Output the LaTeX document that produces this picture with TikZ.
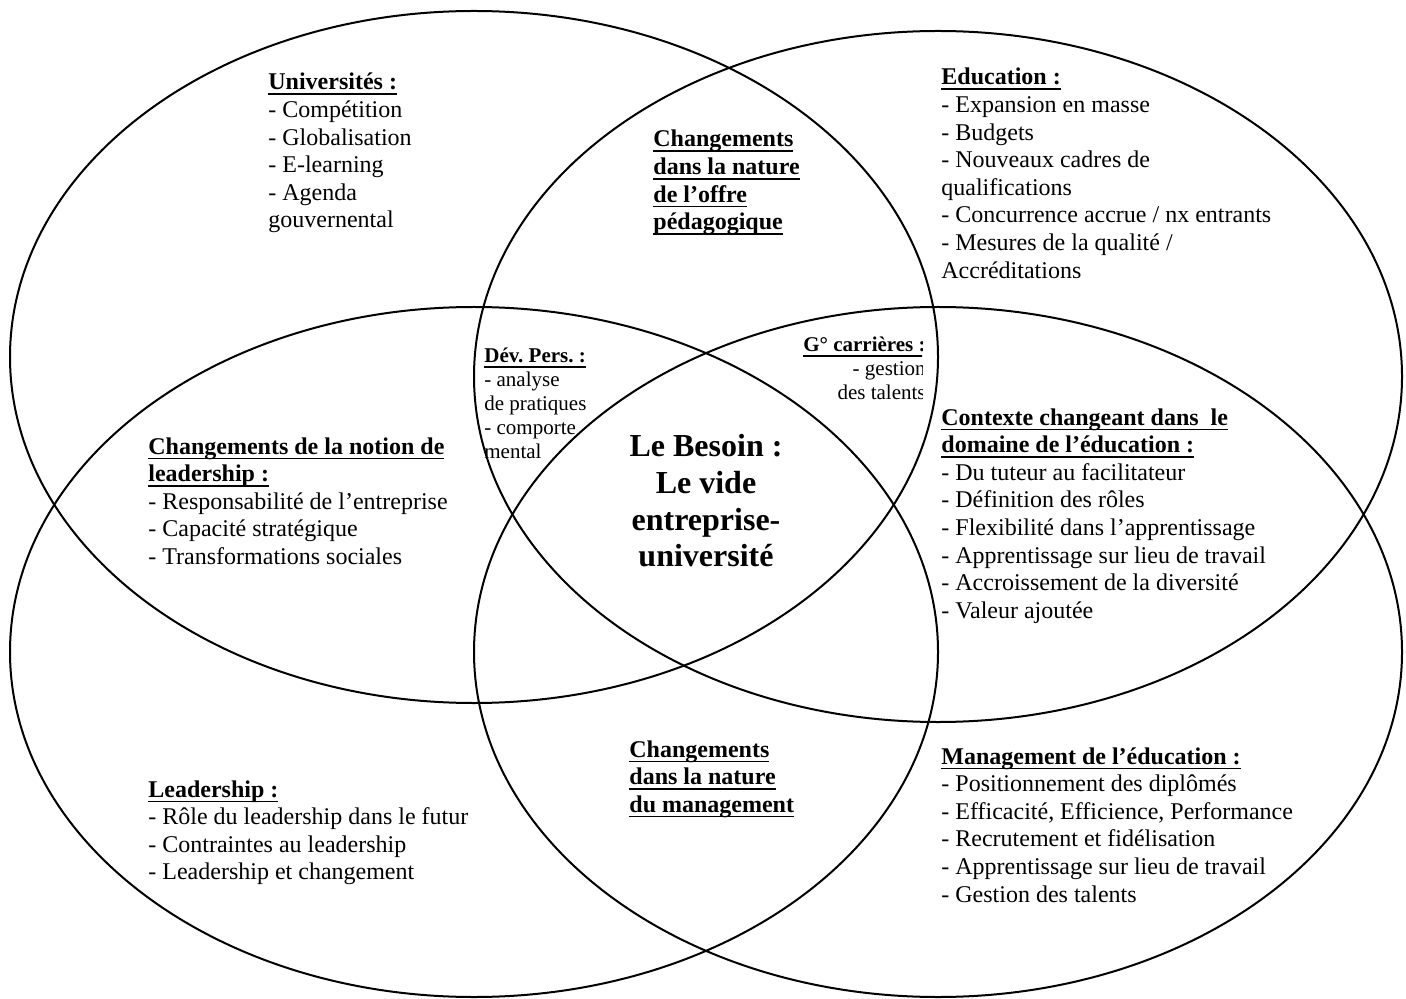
\documentclass[tikz,border=0pt]{standalone}
\usepackage{fontspec}
\setmainfont{Liberation Serif}
\frenchspacing
\newcommand{\myul}[1]{\setbox0\hbox{#1}\rlap{\rule[-2.6pt]{\wd0}{0.85pt}}\box0}
\tikzset{
  venn/.style={draw=black, line width=1pt},
  txt/.style={font=\fontsize{12}{13.8}\selectfont, align=left, anchor=base west, inner sep=0pt},
  small/.style={font=\fontsize{10.5}{12}\selectfont, inner sep=0pt},
  big/.style={font=\fontsize{16}{18.4}\selectfont\bfseries, align=center, anchor=base, inner sep=0pt}
}
\begin{document}
\begin{tikzpicture}[x=0.5pt,y=-0.5pt]
\useasboundingbox (0,0) rectangle (1406,999);
% ellipses
\draw[venn] (474,357) ellipse [x radius=232pt, y radius=173pt];
\draw[venn] (938,376.5) ellipse [x radius=232pt, y radius=172.75pt];
\draw[venn] (474,652) ellipse [x radius=232pt, y radius=172.5pt];
\draw[venn] (938,652) ellipse [x radius=232pt, y radius=172.5pt];
% texts (anchored at the baseline of their last line)
\node[txt] (univ) at (268,228) {\myul{\textbf{Universités :}}\\- Compétition\\- Globalisation\\- E-learning\\- Agenda\\gouvernental};
\node[txt] (educ) at (941,278.2) {\myul{\textbf{Education :}}\\- Expansion en masse\\- Budgets\\- Nouveaux cadres de\\qualifications\\- Concurrence accrue / nx entrants\\- Mesures de la qualité /\\Accréditations};
\node[txt] (offre) at (653,229.8) {\myul{\textbf{Changements}}\\\myul{\textbf{dans la nature}}\\\myul{\textbf{de l’offre}}\\\myul{\textbf{pédagogique}}};
\node[small, align=left, anchor=base west] (dev) at (484,458.7) {\myul{\textbf{Dév. Pers. :}}\\- analyse\\de pratiques\\- comporte\\mental};
\begin{scope}
\clip (760,320) rectangle (922,412);
\node[small, align=right, anchor=base east] (gcar) at (926,399.7) {\myul{\textbf{G° carrières :}}\\- gestion\\des talents};
\end{scope}
\node[big] (besoin) at (706,566.9) {Le Besoin :\\Le vide\\entreprise-\\université};
\node[txt] (lead1) at (148,564.4) {\myul{\textbf{Changements de la notion de}}\\\myul{\textbf{leadership :}}\\- Responsabilité de l’entreprise\\- Capacité stratégique\\- Transformations sociales};
\node[txt] (ctx) at (941,618.2) {\myul{\textbf{Contexte changeant dans~~le}}\\\myul{\textbf{domaine de l’éducation :}}\\- Du tuteur au facilitateur\\- Définition des rôles\\- Flexibilité dans l’apprentissage\\- Apprentissage sur lieu de travail\\- Accroissement de la diversité\\- Valeur ajoutée};
\node[txt] (mgmt) at (629,812.2) {\myul{\textbf{Changements}}\\\myul{\textbf{dans la nature}}\\\myul{\textbf{du management}}};
\node[txt] (lead2) at (148,879.8) {\myul{\textbf{Leadership :}}\\- Rôle du leadership dans le futur\\- Contraintes au leadership\\- Leadership et changement};
\node[txt] (medu) at (941,902) {\myul{\textbf{Management de l’éducation :}}\\- Positionnement des diplômés\\- Efficacité, Efficience, Performance\\- Recrutement et fidélisation\\- Apprentissage sur lieu de travail\\- Gestion des talents};
\end{tikzpicture}
\end{document}
